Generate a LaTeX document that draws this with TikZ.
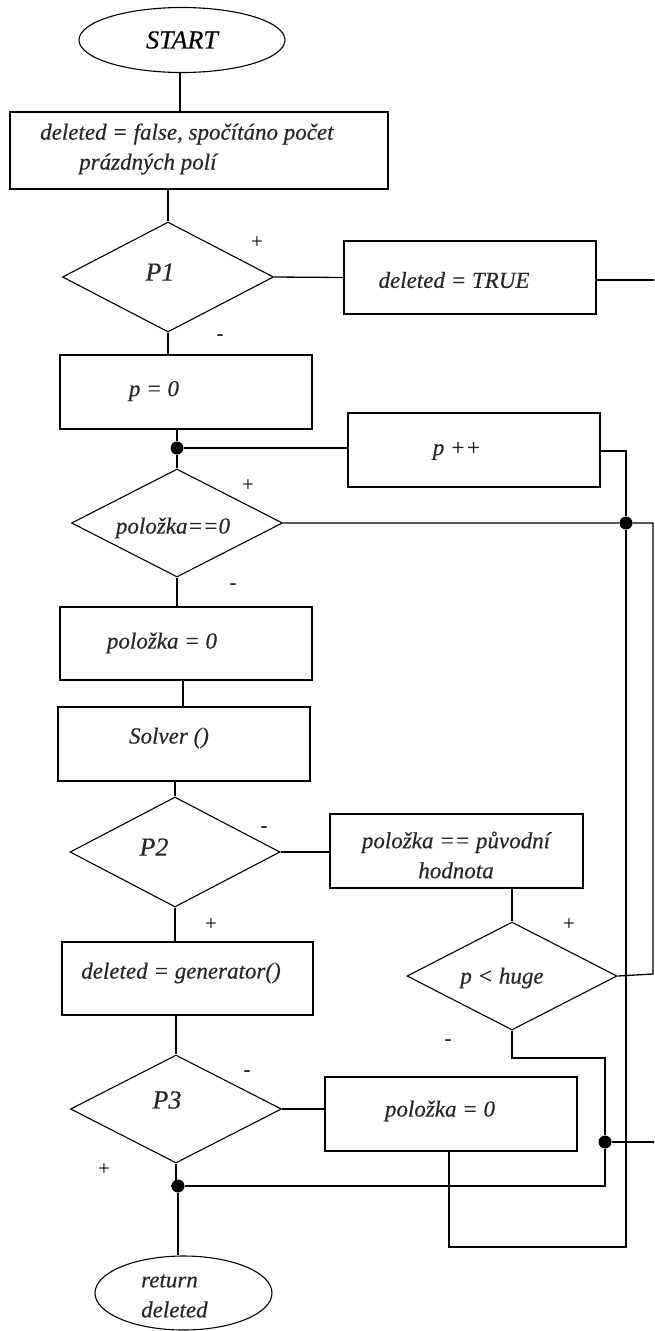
\documentclass[tikz,border=0pt]{standalone}
\usepackage{fontspec}
\setmainfont{Liberation Serif}[ItalicFeatures={FakeBold=0.4}]
\usetikzlibrary{shapes.geometric}
\newcommand\flowtxt{\fontsize{23}{30}\selectfont\itshape}
\newcommand\flowbig{\fontsize{26}{30}\selectfont\itshape}
\newcommand\flowsign{\fontsize{21}{24}\selectfont}
\tikzset{
  box/.style={draw, rectangle, line width=1.3pt, inner sep=0pt},
  dec/.style={draw, diamond, line width=1.1pt, inner sep=0pt},
  term/.style={draw, ellipse, line width=1.1pt, inner sep=0pt},
  txt/.style={font=\flowtxt, inner sep=0pt, text=black!85},
  sign/.style={font=\flowsign, inner sep=0pt},
  dot/.style={circle, fill=black, inner sep=0pt, minimum size=13pt},
  conn/.style={line width=1.3pt},
}
\begin{document}
\begin{tikzpicture}[x=1pt,y=-1pt]
\useasboundingbox (0,0) rectangle (654,1331);

% ---- shapes ----
\node[term, minimum width=206pt, minimum height=65pt, font=\flowbig] (start) at (182,40) {START};
\node[box, minimum width=378pt, minimum height=77pt] (box1) at (199,150.5) {};
\node[txt, anchor=west] (box1a) at (40,134) {deleted = false, spočítáno počet};
\node[txt, anchor=west] (box1b) at (79,164) {prázdných polí};

\node[dec, minimum width=211pt, minimum height=110pt] (p1) at (168,277) {};
\node[txt, font=\flowbig] (p1t) at (160,272) {P1};
\node[box, minimum width=252pt, minimum height=73pt] (dtrue) at (470,277.5) {};
\node[txt] (dtruet) at (454,280) {deleted = TRUE};

\node[box, minimum width=252pt, minimum height=74pt] (p0) at (186,392) {};
\node[txt] (p0t) at (154,391) {p = 0};

\node[dot] (j1) at (177,448) {};
\node[box, minimum width=252pt, minimum height=74pt] (pp) at (474,450) {};
\node[txt] (ppt) at (457,451) {p ++};

\node[dec, minimum width=211pt, minimum height=108pt] (d2) at (177,523) {};
\node[txt] (d2t) at (173,528) {položka==0};
\node[dot] (j2) at (626,523) {};

\node[box, minimum width=252pt, minimum height=73pt] (pz1) at (186,643.5) {};
\node[txt] (pz1t) at (162,643) {položka = 0};

\node[box, minimum width=252pt, minimum height=74pt] (solver) at (184,744) {};
\node[txt] (solvert) at (169,738) {Solver ()};

\node[dec, minimum width=210pt, minimum height=110pt] (p2) at (175,852) {};
\node[txt, font=\flowbig] (p2t) at (154,847) {P2};
\node[box, minimum width=253pt, minimum height=74pt] (pv) at (456.5,851) {};
\node[txt, align=center] (pvt) at (456,855) {položka == původní\\hodnota};

\node[dec, minimum width=210pt, minimum height=108pt] (pl) at (512,976) {};
\node[txt] (plt) at (502,978) {p < huge};

\node[box, minimum width=251pt, minimum height=73pt] (gen) at (187.5,978.5) {};
\node[txt] (gent) at (181,973) {deleted = generator()};

\node[dec, minimum width=211pt, minimum height=108pt] (p3) at (176,1109) {};
\node[txt, font=\flowbig] (p3t) at (167,1100) {P3};
\node[box, minimum width=252pt, minimum height=74pt] (pz2) at (451,1114) {};
\node[txt] (pz2t) at (440,1111) {položka = 0};

\node[dot] (j3) at (605,1142) {};
\node[dot] (j4) at (178,1186) {};

\node[term, minimum width=177pt, minimum height=74pt] (ret) at (183.5,1293) {};
\node[txt, align=left, anchor=west] (rett) at (141,1296) {return\\deleted};

% ---- branch signs ----
\node[sign] (s1) at (257,243) {+};
\node[sign] (s2) at (220,338) {-};
\node[sign] (s3) at (248,486) {+};
\node[sign] (s4) at (233,587) {-};
\node[sign] (s5) at (264,830) {-};
\node[sign] (s6) at (211,925) {+};
\node[sign] (s7) at (569,925) {+};
\node[sign] (s8) at (448,1043) {-};
\node[sign] (s9) at (247,1074) {-};
\node[sign] (s10) at (104,1170) {+};

% ---- routing points ----
\coordinate (e1) at (654,280);
\coordinate (r1) at (653,523);
\coordinate (r2) at (653,974);
\coordinate (e4) at (654,1142);
\coordinate (ppr) at (626,451);
\coordinate (loopb) at (449,1247);
\coordinate (bend) at (605,1058);

% ---- connectors ----
\draw[conn] (start.south -| 180,0) -- (box1.north -| 180,0);
\draw[conn] (box1.south -| p1.north) -- (p1.north);
\draw[conn] (p1.east) -- (dtrue.west);
\draw[conn] (dtrue.east |- e1) -- (e1);
\draw[conn] (p1.south) -- (p1.south |- p0.north);
\draw[conn] (p0.south -| j1) -- (j1) -- (d2.north);
\draw[conn] (j1) -- (j1 -| pp.west);
\draw[conn] (pp.east |- ppr) -- (ppr) -- (j2);
\draw[conn] (d2.east) -- (j2) -- (r1) -- (r2) -- (pl.east);
\draw[conn] (j2) -- (j2 |- loopb) -- (loopb) -- (loopb |- pz2.south);
\draw[conn] (d2.south) -- (d2.south |- pz1.north);
\draw[conn] (pz1.south -| 183,0) -- (solver.north -| 183,0);
\draw[conn] (solver.south -| p2.north) -- (p2.north);
\draw[conn] (p2.east) -- (p2.east -| pv.west);
\draw[conn] (pv.south -| pl.north) -- (pl.north);
\draw[conn] (pl.south) -- (pl.south |- bend) -- (bend) -- (j3) -- (j3 |- j4) -- (j4);
\draw[conn] (j3) -- (e4);
\draw[conn] (p2.south) -- (p2.south |- gen.north);
\draw[conn] (gen.south -| p3.north) -- (p3.north);
\draw[conn] (p3.east) -- (p3.east -| pz2.west);
\draw[conn] (p3.south) -- (p3.south |- j4) -- (j4) -- (ret.north -| j4);
\end{tikzpicture}
\end{document}
